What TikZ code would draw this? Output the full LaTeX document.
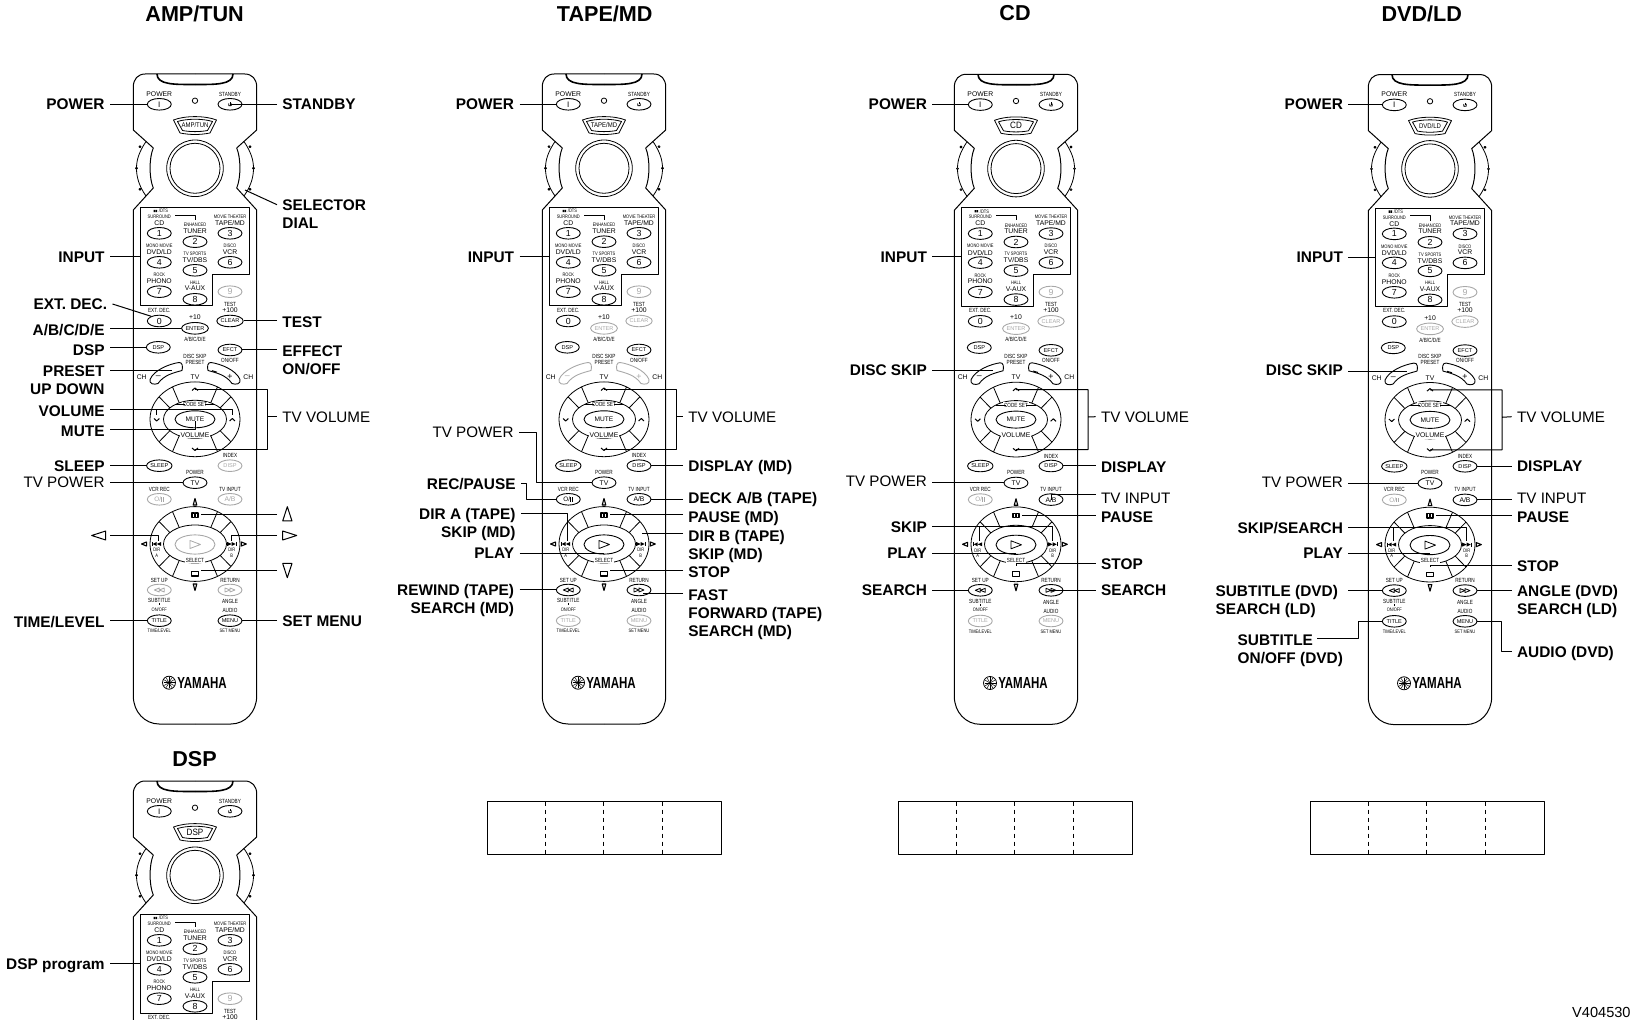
\documentclass[tikz,border=0pt]{standalone}
\usepackage{fontspec}
\setmainfont{Liberation Sans}
\usetikzlibrary{shapes.geometric}
\definecolor{on}{HTML}{000000}
\definecolor{off}{HTML}{A8A8A8}
\newcommand{\Digit}{\fontsize{4.4}{4.5}\selectfont}
\newcommand{\SelBig}{\fontsize{4.6}{5}\selectfont}

\tikzset{
  lbold/.style={font={\fontsize{7.7}{9}\selectfont\bfseries},inner sep=0pt},
  lreg/.style={font={\fontsize{7.6}{9}\selectfont},inner sep=0pt},
  head/.style={font={\fontsize{10.8}{12}\selectfont\bfseries},inner sep=0pt},
  lead/.style={line width=.5pt},
  txa/.style={font={\fontsize{3.4}{3.5}\selectfont},inner sep=0pt},
  txb/.style={font={\fontsize{3}{3}\selectfont},inner sep=0pt,xscale=.78},
  txc/.style={font={\fontsize{2.5}{2.5}\selectfont},inner sep=0pt,xscale=.8},
  keyb/.style={ellipse,draw=#1,text=#1,inner sep=0pt,minimum width=12pt,minimum height=5.8pt,
    line width=.45pt,font={\fontsize{2.8}{3}\selectfont}},
}

% left label: x is its right end, y the middle of its first line
\newcommand{\TagL}[5][lbold]{%
  \node[anchor=north east,align=right,#1] (#2) at (#3,#4-5.4) {#5};
  \coordinate (#2-s) at ([shift={(2.5pt,-2.7pt)}]#2.north east);
}
\newcommand{\TagR}[5][lbold]{%
  \node[anchor=north west,align=left,#1] (#2) at (#3,#4-5.4) {#5};
  \coordinate (#2-s) at ([shift={(-2.5pt,-2.7pt)}]#2.north west);
}
\newcommand{\TagsL}[3]{%
  \foreach \tn/\ty/\tx/\tk in {#3} {
    \TagL{#1-l\tn}{#2}{\ty}{\tx}
    \draw[lead] (#1-l\tn-s |- #1-\tk) -- (#1-\tk);
  }
}
\newcommand{\TagsR}[3]{%
  \foreach \tn/\ty/\tx/\tk in {#3} {
    \TagR{#1-l\tn}{#2}{\ty}{\tx}
    \draw[lead] (#1-l\tn-s |- #1-\tk) -- (#1-\tk);
  }
}
% bracket of the two chevrons, with its label
\newcommand{\TvVol}[2]{%
  \TagR[lreg]{#1-ltvv}{#2}{416.7}{TV VOLUME}
  \draw[lead] (#1-chevu) -- ++(72,0) -- ++(0,60) -- (#1-chevd)
    (#1-chevu) ++(72,27.4) -- (#1-ltvv-s);
}
% one of the two rings of eight segments
\newcommand{\Ring}[1]{%
  \draw (0,#1) ellipse [x radius=45,y radius=37.4];
  \draw (0,#1) ellipse [x radius=31.5,y radius=19];
  \foreach \a in {60,120,240,300,37,143,217,323}
    \draw (\a:45 and 37.4) ++(0,#1) -- ++({(31.5-45)*cos(\a)},{(19-37.4)*sin(\a)});
}

% prefix, centre x, top y, selector text, colours of:
% enter+clear, rockers, disp+ab+play+setup, vcr, title+menu
\newcommand{\Remote}[9]{%
  \begin{scope}[shift={(#2,#3)},line width=.4pt]
  % ---- the body, one half and its mirror ----------------------------------
  \foreach \s in {1,-1} {
    \begin{scope}[xscale=\s]
      \draw[line width=.5pt] (0,0) -- (49.7,0) .. controls (57,0) and (61.7,5) .. (61.7,13) -- (61.7,56)
        -- (41.7,74) .. controls (46,84) and (46,104) .. (41.7,114) -- (61.7,136) -- (61.7,622)
        .. controls (61.7,638) and (50,650) .. (36,650) -- (0,650);
      \draw (49,67.5) .. controls (56,78) and (58.5,86) .. (58.5,94.3) .. controls (58.5,103) and (56,112) .. (49,122);
      \foreach \dx/\dy in {55/72.7,58.5/94.3,55/115.3}
        \draw[fill=white] (\dx,\dy) circle (1);
      \draw[line width=.8pt] (0,10.5) .. controls (20,10.5) and (38,11) .. (38,0);
    \end{scope}
  }
  % ---- selector window and dial --------------------------------------------
  \draw (-21.5,46) .. controls (-10,41.5) and (10,41.5) .. (21.5,46) -- (15,59) .. controls (5,61) and (-5,61) .. (-15,59) -- cycle;
  \draw (-17.5,47.5) .. controls (-8,44.5) and (8,44.5) .. (17.5,47.5) -- (12.5,56.5) .. controls (5,58) and (-5,58) .. (-12.5,56.5) -- cycle;
  \node[font={\fontsize{3.4}{3.5}\selectfont},inner sep=0pt,xscale=.88] (#1-sel) at (0,51.5) {#4};
  \draw (0,94.3) circle (28.3);
  \draw (0,94.3) circle (25);
  \coordinate (#1-dial) at (50,116);
  \draw (0,26.7) circle (2.7);
  % ---- top keys ------------------------------------------------------------
  \node[keyb=on,font={\fontsize{4}{4}\selectfont}] (#1-power) at (-35.7,30.3) {I};
  \node[keyb=on] (#1-standby) at (35,30.3) {};
  \draw (35,28.2) -- (35,30.4);
  \draw (33.7,29.4) arc (220:-40:1.7);
  \node[txa] (#1-tpow) at (-35.7,20) {POWER};
  \node[txb] (#1-tsta) at (35,20) {STANDBY};
  % ---- input keys ----------------------------------------------------------
  \draw[line width=.5pt] (-54.3,133.7) -- (54,133.7) -- (54,200.3) -- (17.3,200.3) -- (17.3,232) -- (-54.3,232) -- cycle;
  \coordinate (#1-input) at (-54.3,182.7);
  \draw (-20,141.3) -| (0,146);
  \foreach \k/\kx/\ky in {1/-35.7/159.3,2/0/167.7,3/35/159.3,4/-35.7/188.3,5/0/196.3,
                          6/35/188.3,7/-35.7/217.7,8/0/225.3}
    \node[keyb=on,font=\Digit] (#1-n\k) at (\kx,\ky) {\k};
  \node[keyb=off,font=\Digit] (#1-n9) at (35,217.7) {9};
  \foreach \ln/\lx/\ly/\lt in {a/-35.7/149.3/CD,b/0/157/TUNER,c/35/148.7/{TAPE/MD},d/-35.7/178.3/{DVD/LD},
      e/0/186/{TV/DBS},f/35/177.7/VCR,g/-35.7/207.3/PHONO,h/0/214.7/V-AUX,i/35/236/+100}
    \node[txa] (#1-ta\ln) at (\lx,\ly) {\lt};
  \foreach \ln/\lx/\ly/\lt in {a/-35.7/236/{EXT. DEC.},b/35/230.3/TEST}
    \node[txb] (#1-tb\ln) at (\lx,\ly) {\lt};
  \foreach \ln/\lx/\ly/\lt in {a/-35.7/142.7/SURROUND,b/-31.5/137/{/DTS},c/0/151/ENHANCED,d/35/142.7/{MOVIE THEATER},
      e/-35.7/171.7/{MONO MOVIE},f/0/179.7/{TV SPORTS},g/35/171.7/DISCO,h/-35.7/201/ROCK,i/0/208.3/HALL}
    \node[txc] (#1-tc\ln) at (\lx,\ly) {\lt};
  \fill (-41.5,135.8) rectangle ++(1.6,2.4) (-39.5,135.8) rectangle ++(1.6,2.4);
  % the rest of the remote lies below the page when it starts low down
  \ifdim#3pt<700pt
  \node[keyb=on,font=\Digit] (#1-n0) at (-35.7,247) {0};
  \node[keyb=#5] (#1-enter) at (0,254.3) {ENTER};
  \node[keyb=#5] (#1-clear) at (35,247) {CLEAR};
  \node[keyb=on] (#1-dsp) at (-36.7,273.3) {DSP};
  \node[keyb=on] (#1-efct) at (35,276) {EFCT};
  \foreach \ln/\lx/\ly/\lt in {j/0/243.3/+10,k/0/303.3/TV,m/-53.3/303.3/CH,n/53.3/303.3/CH}
    \node[txa] (#1-ta\ln) at (\lx,\ly) {\lt};
  \foreach \ln/\lx/\ly/\lt in {c/0/265.3/{A/B/C/D/E},d/0/282/{DISC SKIP},
      e/0/288/PRESET,f/35/286/{ON/OFF},g/35/381.7/INDEX,h/0/398/POWER,i/-35.7/415/{VCR REC},j/35/415/{TV INPUT},
      k/-35.7/506/{SET UP},m/35/506/RETURN,n/-35.7/526.7/SUBTITLE,o/35/527.7/ANGLE,p/35/536.7/AUDIO}
    \node[txb] (#1-tb\ln) at (\lx,\ly) {\lt};
  \foreach \ln/\lx/\ly/\lt in {j/-35.7/535.3/{ON/OFF},k/-35.7/557/{TIME/LEVEL},m/35/557/{SET MENU},
      n/-38.3/476/DIR,o/-38.3/481.3/A,p/36.7/476/DIR,q/36.7/481.3/B}
    \node[txc] (#1-tc\ln) at (\lx,\ly) {\lt};
  % ---- rockers -------------------------------------------------------------
  \foreach \s in {1,-1} {
    \begin{scope}[xscale=\s]
      \draw[#6,line width=.45pt] (45,305.5) .. controls (41,296) and (26,290) .. (16,288.5)
        .. controls (12.5,288) and (12,293) .. (13,296.5) .. controls (22,299) and (31,301) .. (37,309.5)
        .. controls (41,311) and (46,310) .. cycle;
    \end{scope}
  }
  \coordinate (#1-rockl) at (-23.3,296.7);
  \coordinate (#1-rockr) at (17,296.7);
  \node[font={\fontsize{4.4}{4.5}\selectfont},inner sep=0pt,text=#6] (#1-minus) at (-36.7,303.3) {–};
  \node[font={\fontsize{4.4}{4.5}\selectfont},inner sep=0pt,text=#6] (#1-plus) at (35,302.7) {+};
  % ---- upper ring ----------------------------------------------------------
  \Ring{345.3}
  \node[keyb=on,minimum width=20pt,minimum height=8.5pt,font={\fontsize{3.3}{3.5}\selectfont}] (#1-mute) at (0,345.3) {MUTE};
  \node[txb,fill=white,inner xsep=.5pt,inner ysep=.4pt] (#1-tcode) at (0,330.7) {CODE SET};
  \draw (-20,330.7) -- (-10,330.7) (10,330.7) -- (20,330.7);
  \node[txa,fill=white,inner xsep=.5pt,inner ysep=.4pt] (#1-tvol) at (0,361) {VOLUME};
  \coordinate (#1-chevu) at (0,315.3);
  \coordinate (#1-chevd) at (0,375.3);
  \coordinate (#1-vl) at (-38.3,336);
  \coordinate (#1-vr) at (37.3,336);
  \coordinate (#1-mutel) at (0,356);
  \draw[line width=.5pt] (-3,316.5) -- (0,314) -- (3,316.5);
  \draw[line width=.5pt] (-3,374) -- (0,376.5) -- (3,374);
  \draw[line width=.5pt] (-41,344.5) -- (-38.3,347) -- (-35.6,344.5);
  \draw[line width=.5pt] (34.6,347) -- (37.3,344.5) -- (40,347);
  % ---- keys between the rings ----------------------------------------------
  \node[keyb=on] (#1-sleep) at (-35.7,391.7) {SLEEP};
  \node[keyb=#7] (#1-disp) at (35,391.7) {DISP};
  \node[keyb=on,font={\fontsize{3.4}{3.5}\selectfont}] (#1-tv) at (0,408.7) {TV};
  \node[keyb=#8,font={\fontsize{3.2}{3.5}\selectfont}] (#1-vcr) at (-35.7,425.3) {O/\rule{.7pt}{2.2pt}\kern.2pt\rule{.7pt}{2.2pt}};
  \node[keyb=#7,font={\fontsize{3.4}{3.5}\selectfont}] (#1-ab) at (35,425.3) {A/B};
  % ---- lower ring ----------------------------------------------------------
  \Ring{470}
  \node[keyb=#7,minimum width=20pt,minimum height=9.6pt] (#1-play) at (0,470.5) {};
  \draw[#7] (-5,466.5) -- (5.5,470.5) -- (-5,474.5) -- cycle;
  \draw[line width=.55pt] (-3,439) rectangle ++(2.4,4.4) (.6,439) rectangle ++(2.4,4.4);
  \draw[line width=.55pt] (-3.2,497.5) rectangle (3.2,502);
  \coordinate (#1-pause) at (6,441);
  \coordinate (#1-stop) at (6,496.3);
  \coordinate (#1-stopt) at (0,491.5);
  \coordinate (#1-playb) at (0,479.3);
  \coordinate (#1-skipa) at (-37,466.7);
  \coordinate (#1-skipb) at (36,466.7);
  \coordinate (#1-dirb) at (37.7,459.7);
  \coordinate (#1-fast) at (39.3,519.3);
  \node[txb,fill=white,inner xsep=.5pt,inner ysep=.4pt] (#1-tsel) at (0,486.3) {SELECT};
  \foreach \sx/\s in {-38.3/-1,36.7/1} {
    \fill ({\sx-\s*4.5},468) -- (\sx,470) -- ({\sx-\s*4.5},472) -- cycle;
    \fill (\sx,468) -- ({\sx+\s*4},470) -- (\sx,472) -- cycle;
    \draw ({\sx+\s*4.5},468) -- ++(0,4);
    \draw[line width=.55pt] ({\sx*1.33-\s*2.5},468) -- ({\sx*1.33+\s*2.5},470) -- ({\sx*1.33-\s*2.5},472) -- cycle;
  }
  \draw[line width=.55pt] (-1.8,431) -- (0,424.5) -- (1.8,431) -- cycle;
  \draw[line width=.55pt] (-1.8,510) -- (0,516.5) -- (1.8,510) -- cycle;
  % ---- bottom keys ---------------------------------------------------------
  \node[keyb=#7] (#1-setup) at (-35.7,516) {};
  \node[keyb=#7] (#1-return) at (35,516) {};
  \foreach \kx/\s in {-35.7/-1,35/1} {
    \draw[#7] ({\kx-\s*5},514) -- (\kx,516) -- ({\kx-\s*5},518) -- cycle;
    \draw[#7] (\kx,514) -- ({\kx+\s*5},516) -- (\kx,518) -- cycle;
  }
  \draw (-35.7,529.5) -- ++(0,2);
  \node[keyb=#9] (#1-title) at (-35.7,546.7) {TITLE};
  \node[keyb=#9] (#1-menu) at (35,546.7) {MENU};
  % ---- maker's mark --------------------------------------------------------
  \draw (-26,608.7) circle (6.5);
  \foreach \a in {0,30,...,150}
    \draw[line width=.25pt] (-26,608.7) ++(\a:5.5) -- ++(\a+180:11);
  \node[font={\fontsize{8}{8}\selectfont\bfseries},inner sep=0pt,xscale=.72] (#1-logo) at (7,608.7) {YAMAHA};
  \fi
  \end{scope}
}

\begin{document}
\begin{tikzpicture}[x=.5pt,y=-.5pt,line join=round]
  \clip (0,0) rectangle (1632,1020);

  % ---- headings -------------------------------------------------------------
  \node[head] (h-amp) at (194.6,13.5) {AMP/TUN};
  \node[head] (h-tape) at (604.7,13.5) {TAPE/MD};
  \node[head] (h-cd) at (1015,13.5) {CD};
  \node[head] (h-dvd) at (1421.7,13.5) {DVD/LD};
  \node[head] (h-dsp) at (194.6,758.7) {DSP};
  \node[anchor=east,inner sep=0pt,font={\fontsize{7.3}{9}\selectfont}] (h-code) at (1631,1012.3) {V404530};

  % ---- the five remotes -----------------------------------------------------
  \Remote{amp}{195}{74}{AMP/TUN}{on}{on}{off}{off}{on}
  \Remote{tape}{604}{74}{TAPE/MD}{off}{off}{on}{on}{off}
  \Remote{cd}{1016}{74.3}{\SelBig CD}{off}{on}{on}{off}{off}
  \Remote{dvd}{1430}{74.6}{DVD/LD}{off}{on}{on}{off}{on}
  \Remote{dsp}{195}{781}{\SelBig DSP}{on}{on}{on}{on}{on}

  % ---- the three empty strips -----------------------------------------------
  \foreach \bx in {487,898,1310} {
    \draw[line width=.5pt] (\bx,801.7) rectangle ++(234,52.5);
    \foreach \i in {1,2,3}
      \draw[line width=.5pt,dash pattern=on 2pt off 2pt] (\bx+\i*58.4,801.7) -- ++(0,52.5);
  }

  % ---- AMP/TUN --------------------------------------------------------------
  \TagsL{amp}{105}{power/103.7/POWER/power.west,input/256.7/INPUT/input,
    abc/329.3/{A/B/C/D/E}/enter.west,dsp/349.3/DSP/dsp.west,preset/370.7/{PRESET\\UP DOWN}/rockl,
    sleep/465.7/SLEEP/sleep.west,time/621.7/{TIME/LEVEL}/title.west}
  \TagsR{amp}{282}{standby/103.7/STANDBY/standby.center,test/321.7/TEST/clear.east,
    effect/350.7/{EFFECT\\ON/OFF}/efct.east,set/620.7/{SET MENU}/menu.east}
  \TvVol{amp}{282}
  \draw[lead] (amp-rockr) -- ++(5,1.5);
  \TagL{amp-lext}{107.5}{304}{EXT. DEC.}
  \draw[lead] (amp-lext-s) -- (amp-n0.150);
  \TagR{amp-lsel}{282}{204.7}{SELECTOR\\DIAL}
  \draw[lead] (amp-lsel-s) -- (amp-dial);
  \TagL{amp-lvol}{105}{410.7}{VOLUME}
  \draw[lead] (amp-lvol-s |- amp-vr) -- (amp-vr) -- ++(0,5.5) (amp-vl) -- ++(0,5.5);
  \TagL{amp-lmute}{105}{430.7}{MUTE}
  \draw[lead] (amp-lmute-s |- amp-mutel) -- (amp-mutel) -- ([yshift=-1pt]amp-mute.center);
  \TagL[lreg]{amp-ltv}{105}{481.7}{TV POWER}
  \draw[lead] (amp-ltv-s |- amp-tv.west) -- (amp-tv.west);
  % the four arrow marks stand for labels here
  \draw[line width=.5pt] (105.7,531) -- (91.7,535.5) -- (105.7,540) -- cycle;
  \draw[line width=.5pt] (282.7,531) -- (296.7,535.5) -- (282.7,540) -- cycle;
  \draw[line width=.5pt] (282.7,521) -- (287.3,506.7) -- (292,521) -- cycle;
  \draw[line width=.5pt] (282.7,563.5) -- (287.3,577.7) -- (292,563.5) -- cycle;
  \coordinate (amp-mleft) at (110,536);
  \coordinate (amp-mright) at (277,535.3);
  \coordinate (amp-mup) at (277,515);
  \coordinate (amp-mdown) at (277,570.3);
  \draw[lead] (amp-mleft) -| (amp-skipa);
  \draw[lead] (amp-mright) -| (amp-skipb);
  \draw[lead] (amp-mup) -- (amp-pause);
  \draw[lead] (amp-mdown) -- (amp-stop);

  % ---- TAPE/MD --------------------------------------------------------------
  \TagsL{tape}{514.5}{power/103.7/POWER/power.west,input/256.7/INPUT/input,play/552.7/PLAY/playb,
    rewind/589.3/{REWIND (TAPE)\\SEARCH (MD)}/setup.west}
  \TagsR{tape}{688}{display/465.7/{DISPLAY (MD)}/disp.east,deck/497.7/{DECK A/B (TAPE)}/ab.east,
    pause/516.7/{PAUSE (MD)}/pause,dirb/535.7/{DIR B (TAPE)\\SKIP (MD)}/dirb,stop/571.7/STOP/stop,
    fast/594.7/{FAST\\FORWARD (TAPE)\\SEARCH (MD)}/fast}
  \TvVol{tape}{688}
  \TagL[lreg]{tape-ltv}{514}{432.3}{TV POWER}
  \draw[lead] (tape-ltv-s) -- ++(17,0) |- (tape-tv.west);
  \TagL{tape-lrec}{516}{483.3}{REC/PAUSE}
  \draw[lead] (tape-lrec-s) -- ++(5.5,0) |- (tape-vcr.west);
  \TagL{tape-ldira}{516}{513.7}{DIR A (TAPE)\\SKIP (MD)}
  \draw[lead] (tape-ldira-s) -| (tape-skipa);

  % ---- CD -------------------------------------------------------------------
  \TagsL{cd}{927.3}{power/103.7/POWER/power.west,input/256.7/INPUT/input,disc/369.3/{DISC SKIP}/rockl,
    play/552.7/PLAY/playb,search/589.3/SEARCH/setup.west}
  \TagsR{cd}{1100.7}{display/466.7/DISPLAY/disp.east,pause/516.7/PAUSE/pause,
    search/589.3/SEARCH/return.center}
  \TvVol{cd}{1100.7}
  \draw[lead] (cd-rockr) -- ++(5,1.5);
  \TagL[lreg]{cd-ltv}{927.3}{481}{TV POWER}
  \draw[lead] (cd-ltv-s |- cd-tv.west) -- (cd-tv.west);
  \TagL{cd-lskip}{927.3}{526.7}{SKIP}
  \draw[lead] (cd-lskip-s) -| (cd-skipa);
  \draw[lead] (cd-lskip-s) -| (cd-skipb);
  \TagR[lreg]{cd-ltvi}{1100.7}{497.7}{TV INPUT}
  \draw[lead] ([yshift=1.5pt]cd-ltvi-s) -| (cd-ab.center);
  \TagR{cd-lstop}{1100.7}{564}{STOP}
  \draw[lead] (cd-lstop-s) -| (cd-stopt);

  % ---- DVD/LD ---------------------------------------------------------------
  \TagsL{dvd}{1343.3}{power/103.7/POWER/power.west,input/256.7/INPUT/input,disc/369.3/{DISC SKIP}/rockl,
    play/552.7/PLAY/playb}
  \TagsR{dvd}{1516.7}{display/466/DISPLAY/disp.east,pause/516.7/PAUSE/pause,
    angle/590.7/{ANGLE (DVD)\\SEARCH (LD)}/return.east}
  \TvVol{dvd}{1516.7}
  \draw[lead] (dvd-rockr) -- ++(5,1.5);
  \TagL[lreg]{dvd-ltv}{1343.3}{481.7}{TV POWER}
  \draw[lead] (dvd-ltv-s |- dvd-tv.west) -- (dvd-tv.west);
  \TagL{dvd-lskip}{1343.3}{527.3}{SKIP/SEARCH}
  \draw[lead] (dvd-lskip-s) -| (dvd-skipa);
  \draw[lead] (dvd-lskip-s) -| (dvd-skipb);
  \TagL[lbold,align=left]{dvd-lsub}{1338.3}{590.7}{SUBTITLE (DVD)\\SEARCH (LD)}
  \draw[lead] ([xshift=2.5pt]dvd-lsub-s |- dvd-setup.west) -- (dvd-setup.west);
  \TagL[lbold,align=left]{dvd-lonoff}{1343.3}{639.3}{SUBTITLE\\ON/OFF (DVD)}
  \coordinate (dvd-lonoff-e) at (1317.3,639);
  \draw[lead] (dvd-lonoff-e) -- ++(41,0) |- (dvd-title.west);
  \TagR[lreg]{dvd-ltvi}{1516.7}{497.7}{TV INPUT}
  \draw[lead] (dvd-ltvi-s |- dvd-ab.east) -- (dvd-ab.east);
  \TagR{dvd-lstop}{1516.7}{566}{STOP}
  \draw[lead] (dvd-lstop-s) -| (dvd-stopt);
  \TagR{dvd-laudio}{1516.7}{651.7}{AUDIO (DVD)}
  \draw[lead] (dvd-laudio-s) -- ++(-10,0) |- (dvd-menu.east);

  % ---- DSP ------------------------------------------------------------------
  \TagsL{dsp}{105}{prog/964/{DSP program}/input}
\end{tikzpicture}
\end{document}
